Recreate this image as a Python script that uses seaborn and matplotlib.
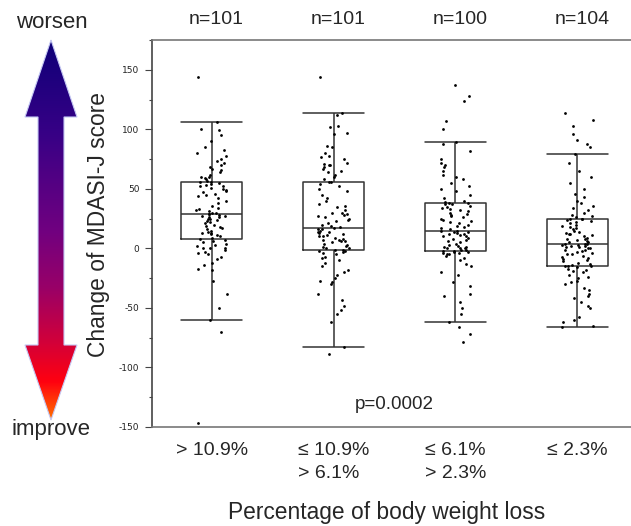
import numpy as np
import pandas as pd
import seaborn as sns
import matplotlib.pyplot as plt
from matplotlib.patches import Polygon
from matplotlib.colors import LinearSegmentedColormap
from matplotlib.ticker import MultipleLocator

# categories (body weight loss groups) and sample sizes
groups = ["> 10.9%", "≤ 10.9%\n> 6.1%", "≤ 6.1%\n> 2.3%", "≤ 2.3%"]
n_labels = ["n=101", "n=101", "n=100", "n=104"]

# change of MDASI-J score
grp_1 = [-147, -70, -60, -50, -38, -27, -18, -17, -14, -12, -9, -7, -5, -4, -3, -1, 0, 0, 0, 2, 3, 4, 5, 6, 7,
         8,
         9, 10, 11, 12, 13, 13, 14, 15, 16, 17, 18, 19, 20, 21, 22, 23, 24, 25, 25, 26, 26, 27, 27, 28,
         28.5,
         29, 30, 30, 31, 32, 33, 34, 36, 38, 40, 42, 44, 45, 46, 47, 48, 49, 50, 51, 52, 52, 53, 54, 55,
         55.5,
         56, 57, 58, 59, 60, 60, 62, 64, 66, 67, 68, 70, 72, 73, 75, 78, 80, 83, 85, 90, 95, 99, 100, 106, 144]
grp_2 = [-89, -83, -62, -55, -52, -48, -43, -38, -30, -28, -27, -25, -22, -20, -18, -15, -12, -10, -8, -7, -5, -4, -3, -2, -2,
         -1.5,
         -1, 0, 0, 1, 2, 3, 4, 5, 6, 6, 7, 7, 8, 9, 10, 10, 11, 12, 13, 14, 14, 15, 16, 16,
         17,
         18, 19, 20, 21, 23, 24, 25, 26, 27, 28, 29, 30, 30, 32, 35, 36, 37, 40, 42, 45, 48, 50, 52, 54,
         55.5,
         56, 58, 60, 62, 64, 65, 67, 68, 70, 70, 71, 72, 75, 77, 78, 80, 85, 86, 96, 97, 102, 103, 112, 114, 144]
grp_3 = [-79, -72, -66, -62, -55, -50, -45, -40, -38, -32, -28, -22, -20, -15, -13, -10, -8, -6, -5, -5, -4, -4, -3, -3,
         -2, -2,
         -1, -1, 0, 0, 0, 1, 1, 2, 3, 4, 5, 6, 7, 8, 9, 10, 10, 11, 12, 12, 13, 14, 14,
         15, 15,
         16, 17, 18, 19, 20, 21, 22, 23, 24, 25, 26, 27, 28, 29, 30, 31, 32, 33, 34, 35, 36, 37, 37,
         38, 38,
         39, 40, 42, 45, 48, 50, 52, 55, 58, 60, 62, 65, 68, 70, 72, 75, 82, 88, 89, 100, 107, 124, 128, 137]
grp_4 = [-66, -65, -62, -60, -58, -50, -48, -45, -42, -40, -38, -35, -33, -30, -28, -27, -25, -24, -22, -20, -19, -18, -17, -16, -15,
         -14.5, -14.5,
         -14, -13, -12, -11, -10, -9, -8, -7, -6, -5, -5, -4, -3, -2, -1, -1, 0, 0, 1, 1, 2, 2, 3, 3,
         3.5, 3.5,
         4, 5, 5, 6, 7, 8, 8, 9, 10, 11, 12, 12, 13, 14, 15, 16, 17, 18, 19, 20, 21, 22, 23, 24,
         24.5, 24.5,
         25, 26, 27, 28, 30, 32, 34, 36, 38, 40, 43, 46, 50, 55, 60, 65, 72, 79, 85, 88, 91, 96, 103, 108, 114]

values = [grp_1, grp_2, grp_3, grp_4]
df = pd.DataFrame({
    "group": np.repeat(groups, [len(v) for v in values]),
    "score": np.concatenate(values),
})

sns.set_style("white")
plt.rcParams['font.family'] = ['Liberation Sans', 'DejaVu Sans']
plt.rcParams['axes.unicode_minus'] = False

W, H = 631, 526
fig = plt.figure(figsize=(W / 100, H / 100), dpi=100)

# gradient arrow on the left (worsen / improve)
aax = fig.add_axes([0, 0, 1, 1], zorder=0)
aax.set_xlim(0, W)
aax.set_ylim(H, 0)
aax.axis('off')
arrow_cmap = LinearSegmentedColormap.from_list(
    "arrow", [(0.0, "#0e0078"), (0.25, "#380086"), (0.5, "#700080"), (0.65, "#980068"),
              (0.8, "#d40038"), (0.9, "#ff0010"), (1.0, "#ff7000")])
grad = np.linspace(0, 1, 256).reshape(-1, 1)
im = aax.imshow(grad, extent=[25, 77, 420, 40], cmap=arrow_cmap, aspect='auto', origin='upper')
arrow = Polygon([(51, 40), (77, 117), (64, 117), (64, 345), (77, 345), (51, 420),
                 (25, 345), (38, 345), (38, 117), (25, 117)],
                closed=True, facecolor='none', edgecolor='#c4c8f4', lw=0.8)
aax.add_patch(arrow)
im.set_clip_path(arrow)
aax.text(52, 23, "worsen", ha='center', va='center', fontsize=16)
aax.text(51, 430, "improve", ha='center', va='center', fontsize=16)

# main plot
ax = fig.add_axes([152 / W, 1 - 427 / H, (W - 152) / W, 387 / H], zorder=1)
sns.boxplot(data=df, x="group", y="score", order=groups, width=0.5, fill=False,
            color="#333333", linewidth=1.1, whis=1.5, showfliers=False,
            capwidths=0.5, ax=ax)
np.random.seed(7)
sns.stripplot(data=df, x="group", y="score", order=groups, color="black", size=2.0,
              jitter=0.13, ax=ax, zorder=3)

ax.set_xlim(-0.49, 3.44)
ax.set_ylim(-150, 175)
ax.yaxis.set_major_locator(MultipleLocator(50))
ax.yaxis.set_minor_locator(MultipleLocator(25))
ax.tick_params(axis='y', which='major', left=True, length=5, width=0.8, color='#444444',
               labelsize=6.5, labelcolor='#222222', pad=4)
ax.tick_params(axis='y', which='minor', left=True, length=2.5, width=0.8, color='#444444')
for lab in ax.get_yticklabels():
    lab.set_family('DejaVu Sans')
ax.tick_params(axis='x', length=0, labelsize=14, pad=11)
for lab in ax.get_xticklabels():
    lab.set_multialignment('left')
    lab.set_linespacing(1.45)
ax.set_xlabel("")
ax.set_ylabel("")
for side in ['left', 'bottom', 'top']:
    ax.spines[side].set_color('#777777')
    ax.spines[side].set_linewidth(1.2)
ax.spines['left'].set_color('#444444')
ax.spines['right'].set_visible(False)

for i, lab in enumerate(n_labels):
    ax.text(i + 0.04, 1.052, lab, transform=ax.get_xaxis_transform(),
            ha='center', va='center', fontsize=14)
ax.text(1.5, -131, "p=0.0002", ha='center', va='center', fontsize=13.5)

fig.text(99 / W, 1 - 225 / H, "Change of MDASI-J score", rotation=90,
         ha='center', va='center', fontsize=16.4)
fig.text(387 / W, 1 - 512 / H, "Percentage of body weight loss",
         ha='center', va='center', fontsize=16.4)

fig.savefig("out.png", dpi=100)
